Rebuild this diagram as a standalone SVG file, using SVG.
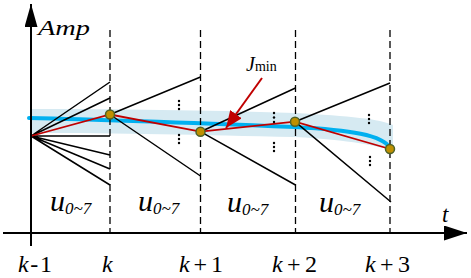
<svg xmlns="http://www.w3.org/2000/svg" width="471" height="278" viewBox="0 0 471 278">
<style>
.ln{stroke:#000;stroke-width:1.5;fill:none}
.red{stroke:#c00000;stroke-width:1.8;fill:none}
.dash{stroke:#000;stroke-width:1.3;stroke-dasharray:7 4;fill:none}
.axis{stroke:#000;stroke-width:2;fill:none}
.pt{fill:#bf9000;stroke:#4f6228;stroke-width:1.5}
.dot{fill:#000}
text{font-family:'Liberation Serif','Times New Roman',serif;fill:#000}
.it{font-style:italic}
</style>
<defs>
<marker id="ah" markerUnits="userSpaceOnUse" markerWidth="24" markerHeight="16" refX="23" refY="7.5" orient="auto"><path d="M0,0 L23,7.5 L0,15 Z" fill="#000"/></marker>
<marker id="ahy" markerUnits="userSpaceOnUse" markerWidth="24" markerHeight="14" refX="23" refY="6.5" orient="auto"><path d="M0,0 L23,6.5 L0,13 Z" fill="#000"/></marker>
<marker id="rh" markerUnits="userSpaceOnUse" markerWidth="18" markerHeight="14" refX="17" refY="7" orient="auto"><path d="M0,0 L17,7 L0,14 Z" fill="#c00000"/></marker>
</defs>
<g id="band">
<path d="M31,109 C120,109 200,110 295,113 C350,116 380,119 393,125 L393,151 C380,146 350,140 295,137 C200,135 120,133 31,133 Z" fill="#d6eaf2"/>
<path d="M29,118 C120,120 220,124 295,127 C350,130 383,135 390,148" stroke="#00b0f0" stroke-width="4" fill="none" stroke-linecap="round"/>
</g>
<g id="connectors">
<path class="dash" d="M110,30 V233 M200.5,30 V233 M295.5,30 V233 M390,30 V233"/>
<path class="ln" d="M31,136 L110,82 M31,136 L110,98 M31,136 L110,136 M31,136 L110,155 M31,136 L110,169 M31,136 L110,185"/>
<path class="ln" d="M110,114.5 L200.5,77 M110,114.5 L200.5,176"/>
<path class="ln" d="M200.5,131.7 L295.5,88 M200.5,131.7 L295.5,185"/>
<path class="ln" d="M295,121.7 L390,83 M295,121.7 L391,202"/>
<path class="red" d="M31,136 L110,114.5 L200.5,131.7 L295,121.7 L390,149"/>
<path d="M262,78 L226,128" stroke="#c00000" stroke-width="2" fill="none" marker-end="url(#rh)"/>
</g>
<g id="dots">
<circle class="dot" cx="179" cy="101" r="1.2"/><circle class="dot" cx="179" cy="105" r="1.2"/><circle class="dot" cx="179" cy="109" r="1.2"/>
<circle class="dot" cx="179" cy="135" r="1.2"/><circle class="dot" cx="179" cy="139" r="1.2"/><circle class="dot" cx="179" cy="143" r="1.2"/>
<circle class="dot" cx="274" cy="113" r="1.2"/><circle class="dot" cx="274" cy="117.5" r="1.2"/><circle class="dot" cx="274" cy="122" r="1.2"/>
<circle class="dot" cx="274" cy="143" r="1.2"/><circle class="dot" cx="274" cy="147" r="1.2"/><circle class="dot" cx="274" cy="151" r="1.2"/>
<circle class="dot" cx="369" cy="115" r="1.2"/><circle class="dot" cx="369" cy="119" r="1.2"/><circle class="dot" cx="369" cy="123" r="1.2"/>
<circle class="dot" cx="370" cy="157" r="1.2"/><circle class="dot" cx="370" cy="161" r="1.2"/><circle class="dot" cx="370" cy="165" r="1.2"/>
</g>
<g id="points">
<circle class="pt" cx="110" cy="114.5" r="4.5"/>
<circle class="pt" cx="200.5" cy="131.7" r="4.5"/>
<circle class="pt" cx="295" cy="121.7" r="4.5"/>
<circle class="pt" cx="390" cy="149" r="4.5"/>
</g>
<g id="axes">
<path class="axis" d="M31,246 V4" marker-end="url(#ahy)"/>
<path class="axis" d="M3,233 H467" marker-end="url(#ah)"/>
<text class="it" x="38" y="35" font-size="21" textLength="52" lengthAdjust="spacingAndGlyphs">Amp</text>
<text class="it" x="442" y="222" font-size="23">t</text>
</g>
<g id="jmin">
<text x="246" y="71"><tspan class="it" font-size="20">J</tspan><tspan font-size="14">min</tspan></text>
</g>
<g id="u-labels">
<text x="50" y="211"><tspan class="it" font-size="30">u</tspan><tspan class="it" font-size="17" dy="3">0~7</tspan></text>
<text x="138" y="211"><tspan class="it" font-size="30">u</tspan><tspan class="it" font-size="17" dy="3">0~7</tspan></text>
<text x="227" y="212"><tspan class="it" font-size="30">u</tspan><tspan class="it" font-size="17" dy="3">0~7</tspan></text>
<text x="319" y="212"><tspan class="it" font-size="30">u</tspan><tspan class="it" font-size="17" dy="3">0~7</tspan></text>
</g>
<g id="t-labels">
<text x="18" y="272" font-size="24" textLength="34" lengthAdjust="spacing"><tspan class="it">k</tspan>-1</text>
<text x="102" y="272" font-size="24" class="it">k</text>
<text x="179" y="272" font-size="24" textLength="44" lengthAdjust="spacing"><tspan class="it">k</tspan>+1</text>
<text x="272" y="272" font-size="24" textLength="45" lengthAdjust="spacing"><tspan class="it">k</tspan>+2</text>
<text x="365" y="272" font-size="24" textLength="45" lengthAdjust="spacing"><tspan class="it">k</tspan>+3</text>
</g>
</svg>
